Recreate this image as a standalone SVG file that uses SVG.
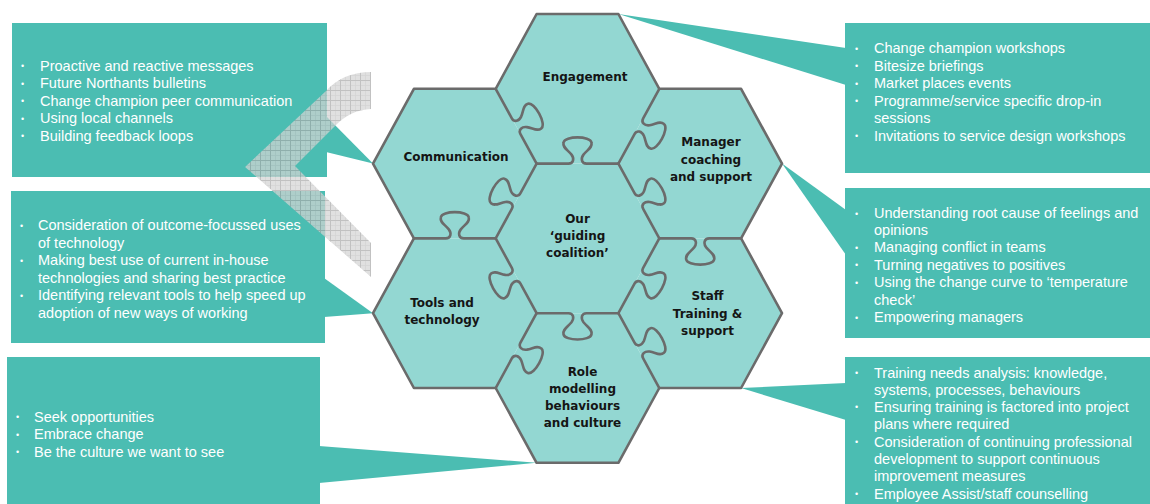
<svg xmlns="http://www.w3.org/2000/svg" xmlns:xlink="http://www.w3.org/1999/xlink" width="1150" height="504" viewBox="0 0 1150 504">
<style>
.box{fill:#4bbdb2}
.ptr{fill:#4bbdb2}
.hex{fill:#93d7d2}
.edge{fill:none;stroke:#6b6b6b;stroke-width:2.6;stroke-linejoin:round;stroke-linecap:round}
.bt{font-family:"Liberation Sans",Arial,sans-serif;font-size:14.5px;fill:#ffffff}
.bl{font-family:"Liberation Sans",Arial,sans-serif;font-size:9px;fill:#ffffff}
.ht{font-family:"DejaVu Sans",Verdana,sans-serif;font-size:12px;font-weight:bold;fill:#151515;text-anchor:middle}
</style>
<defs>
<pattern id="grid" width="10" height="10" patternUnits="userSpaceOnUse">
<rect width="10" height="10" fill="#d4d4d4"/>
<path d="M0 5.5H10M5.5 0V10" stroke="#c4c4c4" stroke-width="0.8"/>
<path d="M0 0.5H10M0.5 0V10" stroke="#a9a9a9" stroke-width="1"/>
</pattern>
<path id="knobH" d="M-40.9 0 H-9 C-4 0 -3 -5 -6 -9 C-10 -14 -15 -16 -14 -21 C-13 -28 13 -28 14 -21 C15 -16 10 -14 6 -9 C3 -5 4 0 9 0 H40.9"/>
<path id="knobS" d="M-42.63 0 H-9 C-4 0 -3 -5 -6 -9 C-10 -14 -15 -16 -14 -21 C-13 -28 13 -28 14 -21 C15 -16 10 -14 6 -9 C3 -5 4 0 9 0 H42.63"/>
</defs>

<g id="box-communication">
<rect class="box" x="12" y="23" width="315" height="154"/>
<text class="bl" x="21" y="69">•</text><text class="bt" x="40" y="70.5">Proactive and reactive messages</text>
<text class="bl" x="21" y="86.5">•</text><text class="bt" x="40" y="88">Future Northants bulletins</text>
<text class="bl" x="21" y="104">•</text><text class="bt" x="40" y="105.5">Change champion peer communication</text>
<text class="bl" x="21" y="121.5">•</text><text class="bt" x="40" y="123">Using local channels</text>
<text class="bl" x="21" y="139">•</text><text class="bt" x="40" y="140.5">Building feedback loops</text>
</g>

<g id="box-tools">
<rect class="box" x="11" y="191" width="314" height="152"/>
<text class="bl" x="20" y="228.5">•</text><text class="bt" x="38" y="230">Consideration of outcome-focussed uses</text>
<text class="bt" x="38" y="247.5">of technology</text>
<text class="bl" x="20" y="263.5">•</text><text class="bt" x="38" y="265">Making best use of current in-house</text>
<text class="bt" x="38" y="282.5">technologies and sharing best practice</text>
<text class="bl" x="20" y="298.5">•</text><text class="bt" x="38" y="300">Identifying relevant tools to help speed up</text>
<text class="bt" x="38" y="317.5">adoption of new ways of working</text>
</g>

<g id="box-role">
<rect class="box" x="7" y="357" width="313" height="150"/>
<text class="bl" x="16" y="420">•</text><text class="bt" x="34" y="421.5">Seek opportunities</text>
<text class="bl" x="16" y="437.5">•</text><text class="bt" x="34" y="439">Embrace change</text>
<text class="bl" x="16" y="455">•</text><text class="bt" x="34" y="456.5">Be the culture we want to see</text>
</g>

<g id="box-engagement">
<rect class="box" x="845" y="23" width="305" height="150"/>
<text class="bl" x="855" y="51.5">•</text><text class="bt" x="874" y="53">Change champion workshops</text>
<text class="bl" x="855" y="69">•</text><text class="bt" x="874" y="70.5">Bitesize briefings</text>
<text class="bl" x="855" y="86.5">•</text><text class="bt" x="874" y="88">Market places events</text>
<text class="bl" x="855" y="104">•</text><text class="bt" x="874" y="105.5">Programme/service specific drop-in</text>
<text class="bt" x="874" y="123">sessions</text>
<text class="bl" x="855" y="139">•</text><text class="bt" x="874" y="140.5">Invitations to service design workshops</text>
</g>

<g id="box-manager">
<rect class="box" x="845" y="188" width="305" height="150"/>
<text class="bl" x="855" y="216.5">•</text><text class="bt" x="874" y="218">Understanding root cause of feelings and</text>
<text class="bt" x="874" y="235">opinions</text>
<text class="bl" x="855" y="250.5">•</text><text class="bt" x="874" y="252">Managing conflict in teams</text>
<text class="bl" x="855" y="268">•</text><text class="bt" x="874" y="269.5">Turning negatives to positives</text>
<text class="bl" x="855" y="285.5">•</text><text class="bt" x="874" y="287">Using the change curve to ‘temperature</text>
<text class="bt" x="874" y="304.5">check’</text>
<text class="bl" x="855" y="320.5">•</text><text class="bt" x="874" y="322">Empowering managers</text>
</g>

<g id="box-staff">
<rect class="box" x="845" y="357" width="305" height="150"/>
<text class="bl" x="855" y="376">•</text><text class="bt" x="874" y="377.5">Training needs analysis: knowledge,</text>
<text class="bt" x="874" y="394.5">systems, processes, behaviours</text>
<text class="bl" x="855" y="410">•</text><text class="bt" x="874" y="411.5">Ensuring training is factored into project</text>
<text class="bt" x="874" y="429">plans where required</text>
<text class="bl" x="855" y="445">•</text><text class="bt" x="874" y="446.5">Consideration of continuing professional</text>
<text class="bt" x="874" y="464">development to support continuous</text>
<text class="bt" x="874" y="481">improvement measures</text>
<text class="bl" x="855" y="497">•</text><text class="bt" x="874" y="498.5">Employee Assist/staff counselling</text>
</g>

<g id="connectors">
<polygon class="ptr" points="326,116 373,163.6 326,152"/>
<polygon class="ptr" points="324,278 373,313.2 324,317"/>
<polygon class="ptr" points="319,446 536.6,462.8 319,483"/>
<polygon class="ptr" points="618.4,14 846,48 846,85"/>
<polygon class="ptr" points="782,163.6 846,210 846,255"/>
<polygon class="ptr" points="741.1,388 846,383 846,420"/>
</g>

<path id="chevron" d="M371 72 Q343 72 326 91 L245 167 L371 277 L371 243 L295 166 L335 126 Q350 110 371 109 Z" fill="url(#grid)" opacity="0.72"/>

<g id="hex-engagement">
<polygon class="hex" points="536.6,14 618.4,14 659.3,88.8 618.4,163.6 536.6,163.6 495.7,88.8"/>
<text class="ht" x="585" y="81">Engagement</text>
</g>
<g id="hex-communication">
<polygon class="hex" points="413.9,88.8 495.7,88.8 536.6,163.6 495.7,238.4 413.9,238.4 373,163.6"/>
<text class="ht" x="456" y="161">Communication</text>
</g>
<g id="hex-manager">
<polygon class="hex" points="659.3,88.8 741.1,88.8 782,163.6 741.1,238.4 659.3,238.4 618.4,163.6"/>
<text class="ht" x="711" y="146">Manager</text>
<text class="ht" x="711" y="163.5">coaching</text>
<text class="ht" x="711" y="181">and support</text>
</g>
<g id="hex-center">
<polygon class="hex" points="536.6,163.6 618.4,163.6 659.3,238.4 618.4,313.2 536.6,313.2 495.7,238.4"/>
<text class="ht" x="577.5" y="222.5">Our</text>
<text class="ht" x="577.5" y="239.5">‘guiding</text>
<text class="ht" x="577.5" y="256.5">coalition’</text>
</g>
<g id="hex-tools">
<polygon class="hex" points="413.9,238.4 495.7,238.4 536.6,313.2 495.7,388 413.9,388 373,313.2"/>
<text class="ht" x="442" y="306.5">Tools and</text>
<text class="ht" x="442" y="324">technology</text>
</g>
<g id="hex-staff">
<polygon class="hex" points="659.3,238.4 741.1,238.4 782,313.2 741.1,388 659.3,388 618.4,313.2"/>
<text class="ht" x="707.5" y="300">Staff</text>
<text class="ht" x="707.5" y="317.5">Training &amp;</text>
<text class="ht" x="707.5" y="334.5">support</text>
</g>
<g id="hex-role">
<polygon class="hex" points="536.6,313.2 618.4,313.2 659.3,388 618.4,462.8 536.6,462.8 495.7,388"/>
<text class="ht" x="582.5" y="375.5">Role</text>
<text class="ht" x="582.5" y="392.5">modelling</text>
<text class="ht" x="582.5" y="409.5">behaviours</text>
<text class="ht" x="582.5" y="426.5">and culture</text>
</g>

<g id="puzzle-edges">
<polygon class="edge" points="536.6,14 618.4,14 659.3,88.8 741.1,88.8 782,163.6 741.1,238.4 782,313.2 741.1,388 659.3,388 618.4,462.8 536.6,462.8 495.7,388 413.9,388 373,313.2 413.9,238.4 373,163.6 413.9,88.8 495.7,88.8"/>
<use xlink:href="#knobH" href="#knobH" class="edge" transform="translate(577.5,163.6)"/>
<use xlink:href="#knobS" href="#knobS" class="edge" transform="translate(516.15,126.2) rotate(61.33)"/>
<use xlink:href="#knobS" href="#knobS" class="edge" transform="translate(638.85,126.2) rotate(118.67)"/>
<use xlink:href="#knobS" href="#knobS" class="edge" transform="translate(516.15,201) rotate(-61.33)"/>
<use xlink:href="#knobS" href="#knobS" class="edge" transform="translate(638.85,201) rotate(61.33)"/>
<use xlink:href="#knobH" href="#knobH" class="edge" transform="translate(454.8,238.4)"/>
<use xlink:href="#knobH" href="#knobH" class="edge" transform="translate(700.2,238.4) rotate(180)"/>
<use xlink:href="#knobS" href="#knobS" class="edge" transform="translate(516.15,275.8) rotate(-118.67)"/>
<use xlink:href="#knobS" href="#knobS" class="edge" transform="translate(638.85,275.8) rotate(118.67)"/>
<use xlink:href="#knobH" href="#knobH" class="edge" transform="translate(577.5,313.2) rotate(180)"/>
<use xlink:href="#knobS" href="#knobS" class="edge" transform="translate(516.15,350.6) rotate(118.67)"/>
<use xlink:href="#knobS" href="#knobS" class="edge" transform="translate(638.85,350.6) rotate(61.33)"/>
</g>
</svg>
